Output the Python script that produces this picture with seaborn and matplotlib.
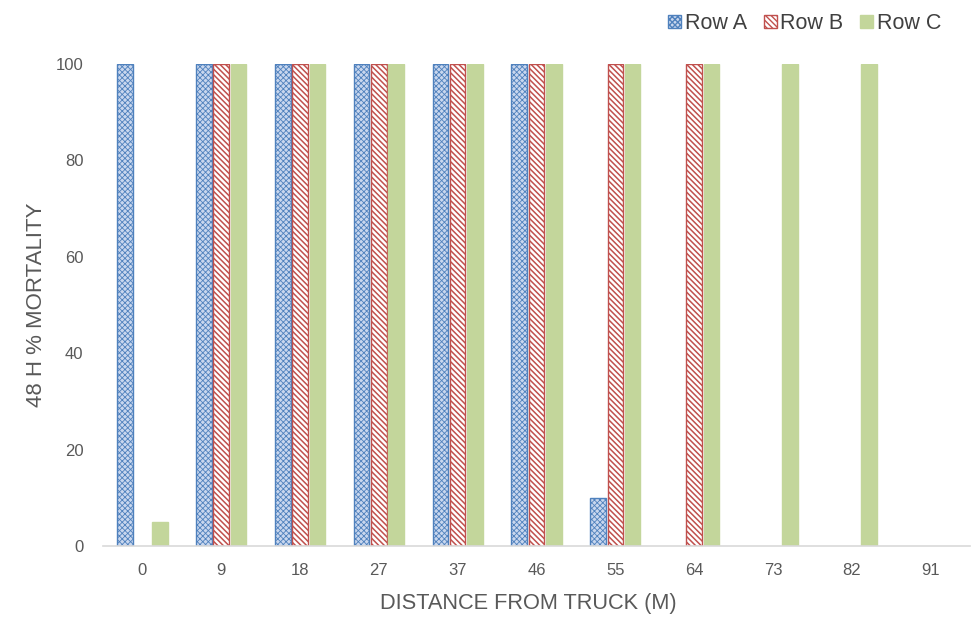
import matplotlib
matplotlib.use("Agg")
import matplotlib.pyplot as plt
import matplotlib.patches as mpatches
import seaborn as sns
import pandas as pd

categories = ["0", "9", "18", "27", "37", "46", "55", "64", "73", "82", "91"]
row_a = [100, 100, 100, 100, 100, 100, 10, 0, 0, 0, 0]
row_b = [0, 100, 100, 100, 100, 100, 100, 100, 0, 0, 0]
row_c = [5, 100, 100, 100, 100, 100, 100, 100, 100, 100, 0]
series = ["Row A", "Row B", "Row C"]

df = pd.DataFrame({
    "distance": categories * 3,
    "value": row_a + row_b + row_c,
    "row": ["Row A"] * 11 + ["Row B"] * 11 + ["Row C"] * 11,
})

sns.set_style("white")
plt.rcParams["font.family"] = ["Liberation Sans", "DejaVu Sans"]
plt.rcParams["hatch.linewidth"] = 1.0

fig = plt.figure(figsize=(9.72, 6.17), dpi=100)
ax = fig.add_axes([103/972, 1 - 546/617, 867/972, (546 - 64)/617])

sns.barplot(data=df, x="distance", y="value", hue="row", order=categories,
            hue_order=series, ax=ax, width=0.66, gap=0.1, legend=False,
            palette=["white", "white", "#C3D69B"])

styles = [
    dict(facecolor="#C9D7EE", edgecolor="#4F81BD", hatch="xxxxxx", hlw=0.6),
    dict(facecolor="white", edgecolor="#C0504D", hatch="\\\\\\\\\\\\", hlw=1.1),
    dict(facecolor="#C3D69B", edgecolor="#C3D69B", hatch=None, hlw=1.0),
]

def style_patch(p, st):
    p.set_facecolor(st["facecolor"])
    p.set_edgecolor(st["edgecolor"])
    p.set_linewidth(1.0)
    if st["hatch"]:
        p.set_hatch(st["hatch"])
        try:
            p.set_hatch_linewidth(st["hlw"])
        except Exception:
            pass

for cont, st in zip(ax.containers, styles):
    for bar in cont:
        style_patch(bar, st)
        if bar.get_height() == 0:
            bar.set_visible(False)

leg_handles = []
for st in styles:
    p = mpatches.Patch()
    style_patch(p, st)
    leg_handles.append(p)
fig.legend(leg_handles, series, loc="upper right",
           bbox_to_anchor=(941/972, 1 - 13/617),
           ncol=3, frameon=False, fontsize=15.5, handlelength=0.6, handleheight=0.6,
           handletextpad=0.15, columnspacing=0.8, labelcolor="#404040",
           borderpad=0, borderaxespad=0)

ax.set_ylim(0, 100)
ax.set_yticks([0, 20, 40, 60, 80, 100])
ax.tick_params(axis="both", length=0, labelsize=12, labelcolor="#595959")
ax.tick_params(axis="y", pad=14)
ax.tick_params(axis="x", pad=12)
for side in ["top", "right", "left"]:
    ax.spines[side].set_visible(False)
ax.spines["bottom"].set_color("#D9D9D9")
ax.spines["bottom"].set_linewidth(1.2)
ax.set_xlabel("DISTANCE FROM TRUCK (M)", fontsize=15.7, color="#595959")
ax.xaxis.set_label_coords((528 - 103) / 867, -0.098)
ax.set_ylabel("48 H % MORTALITY", fontsize=16, color="#595959", labelpad=6)
ax.set_xlim(-0.5, 10.5)

fig.savefig("out.png", dpi=100)
